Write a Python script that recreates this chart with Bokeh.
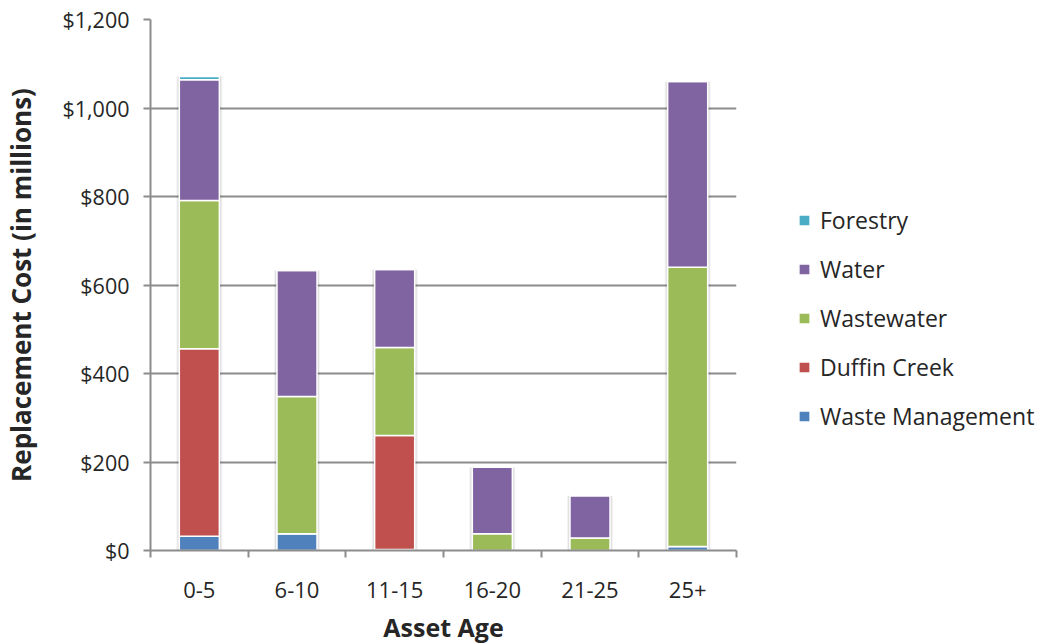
import numpy as np
from bokeh.plotting import figure
from bokeh.models import (ColumnDataSource, FixedTicker, Legend, LegendItem,
                          NumeralTickFormatter, Range1d)
from bokeh.embed import file_html
from bokeh.resources import INLINE

# Replacement cost (in $ millions) by asset age
categories = ["0-5", "6-10", "11-15", "16-20", "21-25", "25+"]
waste_management = [32, 38, 2, 0, 0, 9]
duffin_creek = [424, 0, 258, 0, 0, 0]
wastewater = [335, 310, 199, 38, 28, 631]
water = [273, 285, 176, 150, 96, 420]
forestry = [7, 0, 0, 0, 0, 0]

series_names = ["Waste Management", "Duffin Creek", "Wastewater", "Water", "Forestry"]
series_values = [waste_management, duffin_creek, wastewater, water, forestry]
series_colors = ["#4F81BD", "#C0504D", "#9BBB59", "#8064A2", "#4BACC6"]

y_ticks = [0, 200, 400, 600, 800, 1000, 1200]

FONT = "Open Sans"
TEXT = "#262626"
GRID = "#8c8c8c"

x = np.arange(len(categories)) + 0.5
data = {"x": x}
for name, vals in zip(series_names, series_values):
    data[name] = vals
totals = np.sum(np.array(series_values), axis=0)
data["total"] = totals
source = ColumnDataSource(data)

p = figure(frame_width=586, frame_height=531, output_backend="svg", toolbar_location=None,
           x_range=Range1d(0, len(categories)), y_range=Range1d(0, 1200),
           min_border_left=149, min_border_right=309, min_border_top=19,
           min_border_bottom=93)
p.outline_line_color = None
p.background_fill_color = "white"

# soft shadow behind each stacked column
for w, a in [(0.47, 0.05), (0.45, 0.07)]:
    p.vbar(x="x", top="total", bottom=0, width=w, source=source,
           fill_color="black", fill_alpha=a, line_color=None)

renderers = p.vbar_stack(series_names, x="x", width=0.41, source=source,
                         color=series_colors, line_color="white", line_width=1.5)

items = [LegendItem(label=n, renderers=[r]) for n, r in zip(series_names, renderers)]
legend = Legend(items=list(reversed(items)), location=(61, 118),
                orientation="vertical", padding=0, margin=0,
                border_line_alpha=0, background_fill_alpha=0,
                glyph_width=14, glyph_height=14, label_standoff=9,
                label_height=20, spacing=17,
                label_text_font=FONT, label_text_font_size="23px",
                label_text_color=TEXT)
p.add_layout(legend, "right")

# y axis
p.yaxis.ticker = FixedTicker(ticks=y_ticks)
p.yaxis.formatter = NumeralTickFormatter(format="$0,0")
p.yaxis.axis_line_color = GRID
p.yaxis.axis_line_width = 2
p.yaxis.major_tick_line_color = GRID
p.yaxis.major_tick_line_width = 2
p.yaxis.major_tick_out = 7
p.yaxis.major_tick_in = 0
p.yaxis.minor_tick_line_color = None
p.yaxis.major_label_standoff = 14
p.yaxis.major_label_text_font = FONT
p.yaxis.major_label_text_font_size = "21.5px"
p.yaxis.major_label_text_color = TEXT
p.yaxis.axis_label = "Replacement Cost (in millions)"
p.yaxis.axis_label_text_font = FONT
p.yaxis.axis_label_text_font_size = "26px"
p.yaxis.axis_label_text_font_style = "bold"
p.yaxis.axis_label_text_color = TEXT
p.yaxis.axis_label_standoff = 20

# x axis: labels centred on the columns, ticks on category boundaries
p.xaxis.ticker = FixedTicker(ticks=list(x), minor_ticks=list(range(len(categories) + 1)))
p.xaxis.major_label_overrides = {float(v): c for v, c in zip(x, categories)}
p.xaxis.axis_line_color = GRID
p.xaxis.axis_line_width = 2
p.xaxis.major_tick_line_color = None
p.xaxis.major_tick_out = 0
p.xaxis.major_tick_in = 0
p.xaxis.minor_tick_line_color = GRID
p.xaxis.minor_tick_line_width = 2
p.xaxis.minor_tick_out = 7
p.xaxis.minor_tick_in = 0
p.xaxis.major_label_standoff = 24
p.xaxis.major_label_text_font = FONT
p.xaxis.major_label_text_font_size = "22px"
p.xaxis.major_label_text_color = TEXT
p.xaxis.axis_label = "Asset Age"
p.xaxis.axis_label_text_font = FONT
p.xaxis.axis_label_text_font_size = "25px"
p.xaxis.axis_label_text_font_style = "bold"
p.xaxis.axis_label_text_color = TEXT
p.xaxis.axis_label_standoff = 9

p.xgrid.grid_line_color = None
p.ygrid.ticker = FixedTicker(ticks=y_ticks)
p.ygrid.grid_line_color = GRID
p.ygrid.grid_line_width = 2
p.ygrid.level = "underlay"

open("out.html", "w").write(file_html(p, INLINE))
